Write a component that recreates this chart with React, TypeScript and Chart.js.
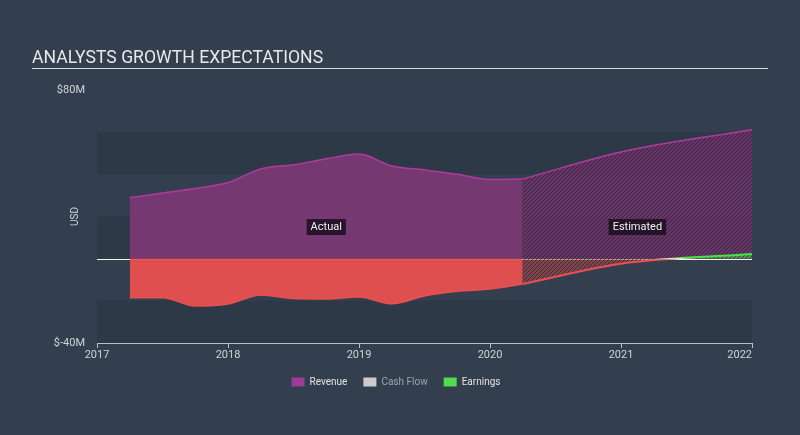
import React, { useEffect, useRef } from "react";
import { Chart, registerables } from "chart.js";

Chart.register(...registerables);

// ---- data ----
const actualYears = [2017.25, 2017.5, 2017.75, 2018.0, 2018.25, 2018.5, 2018.75, 2019.0, 2019.25, 2019.5, 2019.75, 2020.0, 2020.25];
const revenueActual = [28.9, 31.1, 33.3, 36.1, 42.6, 44.5, 47.4, 49.6, 44.0, 42.1, 40.0, 37.6, 37.8];
const earningsActual = [-18.5, -18.5, -22.5, -21.5, -17.2, -18.9, -19.1, -18.2, -21.4, -17.7, -15.5, -14.4, -12.0];

const estimateYears = [2020.25, 2021.0, 2022.0];
const revenueEstimate = [37.8, 50.6, 61.2];
const earningsEstimate = [-12.0, -2.4, 2.2];

const xTickYears = [2017, 2018, 2019, 2020, 2021, 2022];
const yGridValues = [-40, -20, 0, 20, 40, 60, 80];
const yLabelValues = [80, -40];
const legendNames = ["Revenue", "Cash Flow", "Earnings"];
const titleText = "ANALYSTS GROWTH EXPECTATIONS";
const yAxisTitle = "USD";
const periodLabels = ["Actual", "Estimated"];

// ---- styles ----
const BG = "#333f4e";
const BAND = "#2d3947";
const REV_LINE = "#b13a9e";
const REV_FILL = "rgba(124,56,116,0.93)";
const EARN_RED = "#e9504f";
const EARN_FILL = "rgba(233,80,79,0.95)";
const GREEN = "#45e445";
const FONT = "Roboto, 'Open Sans', sans-serif";

function makeHatch(ctx: CanvasRenderingContext2D, bg: string, stripe: string) {
  const c = document.createElement("canvas");
  c.width = 4;
  c.height = 4;
  const g = c.getContext("2d")!;
  g.fillStyle = bg;
  g.fillRect(0, 0, 4, 4);
  g.strokeStyle = stripe;
  g.lineWidth = 1;
  g.beginPath();
  g.moveTo(-1, 5);
  g.lineTo(5, -1);
  g.moveTo(-1, 1);
  g.lineTo(1, -1);
  g.moveTo(3, 5);
  g.lineTo(5, 3);
  g.stroke();
  return ctx.createPattern(c, "repeat")!;
}

export default function App() {
  const canvasRef = useRef<HTMLCanvasElement | null>(null);

  useEffect(() => {
    document.body.style.margin = "0";
    document.body.style.background = BG;
    const canvas = canvasRef.current!;
    const ctx = canvas.getContext("2d")!;

    const revHatch = makeHatch(ctx, "rgba(118,52,112,0.78)", "rgba(40,32,52,0.75)");
    const redHatch = makeHatch(ctx, "rgba(190,72,72,0.55)", "rgba(45,38,52,0.75)");
    const greenHatch = makeHatch(ctx, "rgba(76,200,76,0.6)", "rgba(45,38,52,0.7)");

    const toPts = (xs: number[], ys: number[]) => xs.map((x, i) => ({ x, y: ys[i] }));

    const decor = {
      id: "decor",
      afterLayout(chart: any) {
        const lg = chart.legend;
        if (lg) {
          lg.left += 20;
          lg.right += 20;
        }
        // vertical gradient for estimated earnings line: red below zero, green above
        const ys = chart.scales.y;
        const yTop = ys.getPixelForValue(0.5);
        const yBot = ys.getPixelForValue(-0.5);
        const g = chart.ctx.createLinearGradient(0, yTop, 0, yBot);
        g.addColorStop(0, GREEN);
        g.addColorStop(0.5, "#f0ead0");
        g.addColorStop(1, EARN_RED);
        chart.data.datasets[3].borderColor = g;
      },
      beforeDraw(chart: any) {
        const c = chart.ctx;
        const { chartArea, scales } = chart;
        const y = scales.y;
        c.save();
        // title
        c.fillStyle = "#e8e8e8";
        c.font = `17.6px ${FONT}`;
        c.textBaseline = "alphabetic";
        c.textAlign = "left";
        c.fillText(titleText, 32, 63);
        c.fillStyle = "#d8dce0";
        c.fillRect(32, 68, 736, 1);
        // bands
        c.fillStyle = BAND;
        for (let i = 0; i < yGridValues.length - 1; i += 2) {
          const top = y.getPixelForValue(yGridValues[i + 1]);
          const bot = y.getPixelForValue(yGridValues[i]);
          c.fillRect(chartArea.left, top, chartArea.right - chartArea.left, bot - top);
        }
        // y axis title
        c.translate(75, (chartArea.top + chartArea.bottom) / 2);
        c.rotate(-Math.PI / 2);
        c.fillStyle = "#d0d4d9";
        c.font = `10px ${FONT}`;
        c.textAlign = "center";
        c.textBaseline = "middle";
        c.fillText(yAxisTitle, 0, 0);
        c.restore();
      },
      beforeDatasetsDraw(chart: any) {
        const c = chart.ctx;
        const { chartArea, scales } = chart;
        const y0 = Math.round(scales.y.getPixelForValue(0)) + 0.5;
        c.save();
        c.strokeStyle = "#f2f2f2";
        c.lineWidth = 1;
        c.beginPath();
        c.moveTo(chartArea.left, y0);
        c.lineTo(chartArea.right, y0);
        c.stroke();
        c.restore();
      },
      afterDatasetsDraw(chart: any) {
        const c = chart.ctx;
        const { scales } = chart;
        const x = scales.x;
        const yc = scales.y.getPixelForValue(15);
        const spans = [
          [actualYears[0], actualYears[actualYears.length - 1]],
          [estimateYears[0], estimateYears[estimateYears.length - 1]],
        ];
        c.save();
        c.font = `11px ${FONT}`;
        c.textAlign = "center";
        c.textBaseline = "middle";
        periodLabels.forEach((t, i) => {
          const cx = (x.getPixelForValue(spans[i][0]) + x.getPixelForValue(spans[i][1])) / 2;
          const w = c.measureText(t).width + 8;
          c.fillStyle = "rgba(28,14,30,0.85)";
          c.fillRect(cx - w / 2, yc - 8, w, 16);
          c.fillStyle = "#f0f0f0";
          c.fillText(t, cx, yc + 0.5);
        });
        c.restore();
      },
    };

    const chart = new Chart(canvas, {
      type: "line",
      data: {
        datasets: [
          {
            label: legendNames[0],
            data: toPts(actualYears, revenueActual),
            borderColor: REV_LINE,
            backgroundColor: REV_FILL,
            borderWidth: 1.5,
            fill: "origin",
            pointRadius: 0,
            cubicInterpolationMode: "monotone",
            order: 2,
          },
          {
            label: legendNames[0] + " estimate",
            data: toPts(estimateYears, revenueEstimate),
            borderColor: REV_LINE,
            backgroundColor: revHatch,
            borderWidth: 1.5,
            fill: "origin",
            pointRadius: 0,
            cubicInterpolationMode: "monotone",
            order: 2,
          },
          {
            label: legendNames[2],
            data: toPts(actualYears, earningsActual),
            borderColor: EARN_RED,
            backgroundColor: EARN_FILL,
            borderWidth: 1.5,
            fill: "origin",
            pointRadius: 0,
            cubicInterpolationMode: "monotone",
            order: 1,
          },
          {
            label: legendNames[2] + " estimate",
            data: toPts(estimateYears, earningsEstimate),
            borderColor: EARN_RED,
            borderWidth: 2,
            fill: { target: "origin", above: greenHatch, below: redHatch },
            pointRadius: 0,
            cubicInterpolationMode: "monotone",
            order: 0,
          },
          {
            label: legendNames[1],
            data: [],
            borderColor: "#cccccc",
            backgroundColor: "#cccccc",
            pointRadius: 0,
            order: 3,
          },
        ],
      },
      options: {
        responsive: false,
        animation: false,
        layout: { padding: { top: 90, left: 0, right: 48, bottom: 38 } },
        scales: {
          x: {
            type: "linear",
            min: xTickYears[0],
            max: xTickYears[xTickYears.length - 1],
            afterBuildTicks: (axis: any) => {
              axis.ticks = xTickYears.map((v) => ({ value: v }));
            },
            afterFit: (axis: any) => {
              axis.height = 18;
            },
            grid: {
              display: true,
              drawOnChartArea: false,
              drawTicks: true,
              tickLength: 5,
              color: "#b5bfca",
            },
            border: { display: true, color: "#b5bfca", width: 1 },
            ticks: {
              color: "#d0d4d9",
              font: { size: 11, family: FONT },
              padding: 1,
              maxRotation: 0,
              autoSkip: false,
              callback: (v: any) =>
                v === xTickYears[xTickYears.length - 1]
                  ? String(v) + "\u2007\u2007\u2007\u2007"
                  : String(v),
            },
          },
          y: {
            type: "linear",
            min: yGridValues[0],
            max: yGridValues[yGridValues.length - 1],
            afterBuildTicks: (axis: any) => {
              axis.ticks = yGridValues.map((v) => ({ value: v }));
            },
            afterFit: (axis: any) => {
              axis.width = 97;
            },
            grid: { display: false, drawTicks: false },
            border: { display: false },
            ticks: {
              color: "#d0d4d9",
              font: { size: 11, family: FONT },
              padding: 12,
              callback: (v: any) => (yLabelValues.includes(v) ? (v < 0 ? `$-${Math.abs(v)}M` : `$${v}M`) : ""),
            },
          },
        },
        plugins: {
          title: { display: false },
          tooltip: { enabled: false },
          legend: {
            display: true,
            position: "bottom",
            onClick: () => {},
            labels: {
              boxWidth: 13,
              boxHeight: 9,
              padding: 16,
              font: { size: 10, family: FONT },
              generateLabels: () => [
                { text: legendNames[0], fillStyle: "#9c3b98", strokeStyle: "#9c3b98", lineWidth: 0, fontColor: "#e2e2e2", hidden: false, datasetIndex: 0 },
                { text: legendNames[1], fillStyle: "#cccccc", strokeStyle: "#cccccc", lineWidth: 0, fontColor: "#9ea4ab", hidden: false, datasetIndex: 4 },
                { text: legendNames[2], fillStyle: "#4fdc4f", strokeStyle: "#4fdc4f", lineWidth: 0, fontColor: "#e2e2e2", hidden: false, datasetIndex: 2 },
              ],
            },
          },
        },
      },
      plugins: [decor],
    } as any);

    return () => chart.destroy();
  }, []);

  return (
    <div style={{ position: "relative", width: 800, height: 435, background: BG }}>
      <canvas ref={canvasRef} width={800} height={435} style={{ display: "block", width: 800, height: 435 }} />
    </div>
  );
}
